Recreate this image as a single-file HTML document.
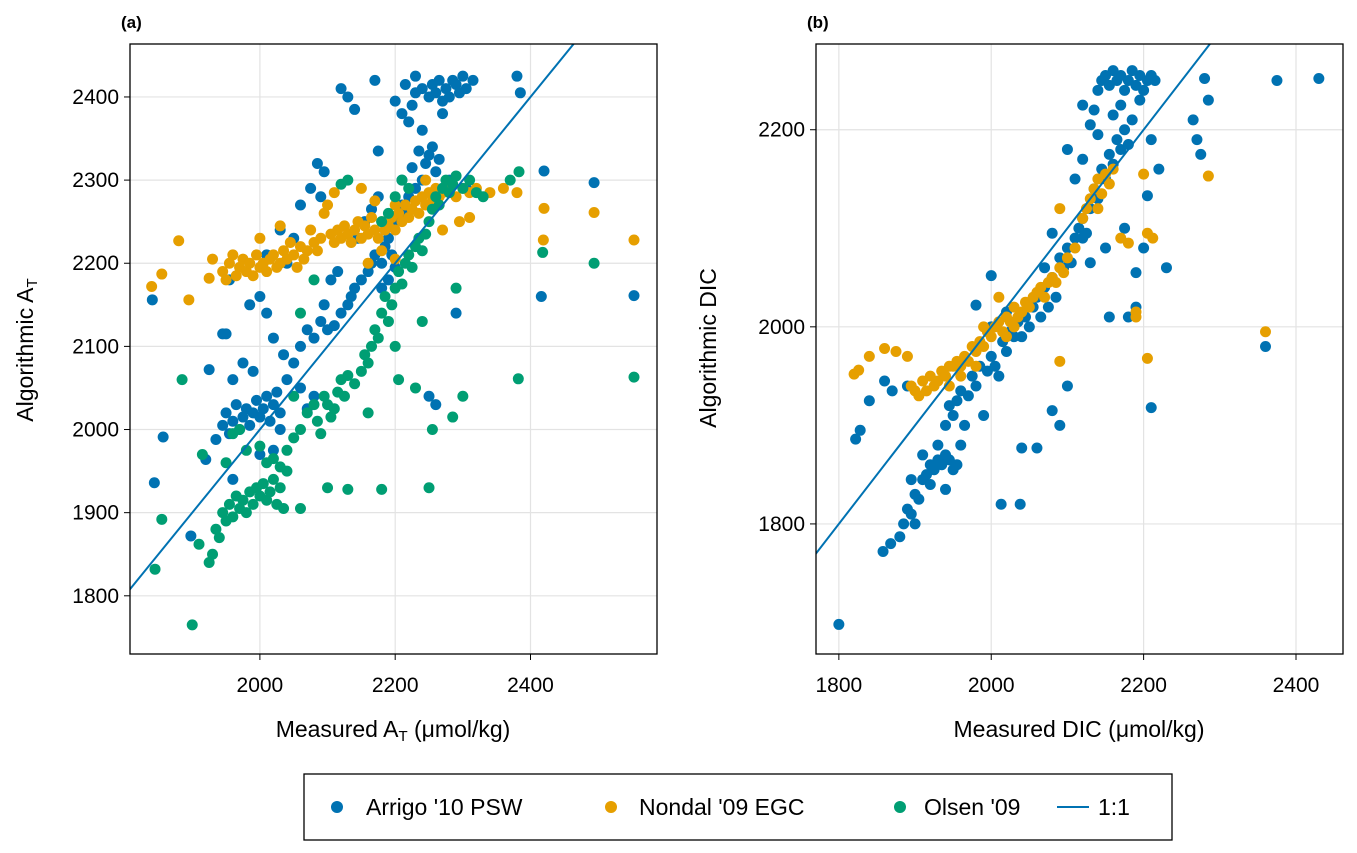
<!DOCTYPE html>
<html><head><meta charset="utf-8">
<style>
html,body{margin:0;padding:0;background:#fff;}
svg{display:block;font-family:"Liberation Sans",sans-serif;}
</style></head>
<body>
<svg id="chart" width="1357" height="853" viewBox="0 0 1357 853">
</svg>
<script>
const aArrigo=[[1844,1936],[1857,1991],[1841,2156],[1898,1872],[1925,2072],[1920,1964],[1935,1988],[1945,2005],[1950,2020],[1955,1995],[1960,2010],[1965,2030],[1970,2000],[1975,2015],[1980,2025],[1985,2005],[1990,2020],[1995,2035],[2000,2015],[2005,2025],[2010,2040],[2015,2010],[2020,2030],[2025,2045],[2030,2020],[1960,2060],[1975,2080],[1990,2070],[1950,2115],[1945,2115],[1955,2180],[1985,2150],[2000,2160],[2010,2140],[2020,2110],[2035,2090],[2040,2060],[2050,2080],[2060,2100],[2070,2120],[2080,2110],[2090,2130],[2095,2150],[2100,2120],[2110,2125],[2120,2140],[2130,2150],[2135,2160],[2140,2170],[2150,2180],[2160,2190],[2165,2200],[2170,2210],[2180,2200],[2185,2220],[2190,2230],[2200,2250],[2210,2270],[2215,2260],[2220,2280],[2230,2290],[2240,2300],[2245,2320],[2250,2330],[2260,2310],[2255,2340],[2265,2325],[2235,2335],[2225,2315],[2210,2300],[2270,2290],[2280,2300],[2200,2395],[2210,2380],[2220,2370],[2230,2405],[2240,2410],[2250,2400],[2255,2415],[2260,2405],[2265,2420],[2270,2395],[2275,2410],[2280,2400],[2285,2420],[2290,2415],[2295,2405],[2300,2425],[2305,2410],[2315,2420],[2270,2380],[2240,2360],[2225,2390],[2215,2415],[2230,2425],[2170,2420],[2120,2410],[2130,2400],[2140,2385],[2175,2335],[2085,2320],[2095,2310],[2075,2290],[2090,2280],[2060,2270],[2050,2230],[2030,2240],[2040,2200],[2010,2210],[2250,2040],[2260,2030],[2290,2140],[2305,2290],[2380,2425],[2385,2405],[2416,2160],[2420,2311],[2494,2297],[2553,2161],[2145,2230],[2155,2250],[2165,2265],[2175,2280],[2185,2240],[2195,2210],[2105,2180],[2115,2190],[2060,2050],[2080,2040],[2070,2025],[2030,2000],[2020,1975],[1960,1940],[2000,1970],[2180,2170],[2200,2195],[2190,2180]];
const aNondal=[[1840,2172],[1855,2187],[1880,2227],[1895,2156],[1925,2182],[1930,2205],[1945,2190],[1950,2180],[1955,2200],[1960,2210],[1965,2185],[1970,2195],[1975,2205],[1980,2190],[1985,2200],[1990,2185],[1995,2210],[2000,2195],[2005,2200],[2010,2190],[2015,2205],[2020,2210],[2025,2195],[2030,2200],[2035,2215],[2040,2205],[2045,2225],[2050,2210],[2055,2195],[2060,2220],[2065,2205],[2070,2215],[2075,2240],[2080,2225],[2085,2215],[2090,2230],[2095,2260],[2100,2270],[2105,2235],[2110,2225],[2115,2240],[2120,2230],[2125,2245],[2130,2235],[2135,2225],[2140,2240],[2145,2250],[2150,2230],[2155,2245],[2160,2235],[2165,2255],[2170,2240],[2175,2230],[2180,2250],[2185,2240],[2190,2245],[2195,2255],[2200,2240],[2205,2260],[2210,2250],[2215,2270],[2220,2255],[2225,2265],[2230,2275],[2235,2260],[2240,2280],[2245,2270],[2250,2285],[2255,2275],[2260,2290],[2265,2280],[2270,2285],[2280,2290],[2290,2280],[2300,2290],[2310,2285],[2320,2290],[2340,2285],[2360,2290],[2380,2285],[2150,2290],[2170,2275],[2200,2270],[2310,2255],[2270,2240],[2295,2250],[2180,2215],[2200,2205],[2160,2200],[2030,2245],[2000,2230],[2419,2228],[2420,2266],[2494,2261],[2553,2228],[2245,2300],[2110,2285]];
const aOlsen=[[1845,1832],[1855,1892],[1885,2060],[1900,1765],[1910,1862],[1915,1970],[1925,1840],[1930,1850],[1935,1880],[1940,1870],[1945,1900],[1950,1890],[1955,1910],[1960,1895],[1965,1920],[1970,1905],[1975,1915],[1980,1900],[1985,1925],[1990,1910],[1995,1930],[2000,1920],[2005,1935],[2010,1915],[2015,1925],[2020,1940],[2025,1910],[2030,1930],[2035,1905],[2040,1950],[1950,1960],[1960,1995],[1970,2000],[1980,1975],[2000,1980],[2010,1960],[2020,1965],[2030,1955],[2040,1975],[2050,1990],[2060,2000],[2070,2020],[2080,2030],[2085,2010],[2090,1995],[2095,2040],[2100,2030],[2105,2015],[2110,2025],[2115,2045],[2120,2060],[2125,2040],[2130,2065],[2140,2055],[2150,2070],[2155,2090],[2160,2080],[2165,2100],[2170,2120],[2175,2110],[2180,2140],[2185,2160],[2190,2130],[2195,2150],[2200,2170],[2205,2190],[2210,2175],[2215,2200],[2220,2210],[2225,2195],[2230,2220],[2235,2230],[2240,2215],[2245,2235],[2250,2250],[2255,2265],[2260,2280],[2265,2270],[2270,2290],[2275,2300],[2280,2285],[2285,2295],[2290,2305],[2300,2290],[2310,2300],[2320,2285],[2330,2280],[2190,2260],[2200,2280],[2180,2250],[2210,2300],[2220,2290],[2180,1928],[2250,1930],[2255,2000],[2285,2015],[2300,2040],[2290,2170],[2370,2300],[2383,2310],[2382,2061],[2418,2213],[2494,2200],[2553,2063],[2120,2295],[2130,2300],[2080,2180],[2060,2140],[2050,2040],[2060,1905],[2100,1930],[2130,1928],[2205,2060],[2230,2050],[2160,2020],[2200,2100],[2240,2130]];
const bArrigo=[[1800,1698],[1858,1772],[1868,1780],[1880,1787],[1885,1800],[1890,1815],[1895,1810],[1900,1830],[1905,1825],[1910,1845],[1915,1850],[1920,1860],[1925,1855],[1930,1865],[1935,1860],[1940,1870],[1945,1865],[1950,1855],[1955,1860],[1960,1880],[1900,1800],[1895,1845],[1910,1870],[1920,1840],[1930,1880],[1940,1900],[1945,1920],[1950,1910],[1955,1925],[1960,1935],[1965,1900],[1970,1930],[1975,1950],[1980,1940],[1985,1960],[1990,1910],[1995,1955],[2000,1970],[2005,1960],[2010,1950],[2015,1985],[2020,1975],[2025,1995],[2030,1990],[2035,2005],[2040,1990],[2045,2010],[2050,2000],[2055,2020],[2060,2030],[2065,2010],[2070,2040],[2075,2020],[2080,2050],[2085,2030],[2090,2070],[2095,2060],[2100,2080],[2105,2065],[2110,2090],[2115,2100],[2120,2110],[2125,2095],[2130,2120],[2135,2140],[2140,2130],[2145,2160],[2150,2150],[2155,2175],[2160,2165],[2165,2190],[2170,2180],[2175,2200],[2180,2185],[2130,2205],[2135,2220],[2140,2240],[2145,2250],[2150,2255],[2155,2245],[2160,2260],[2165,2250],[2170,2255],[2175,2240],[2180,2250],[2185,2260],[2190,2245],[2195,2255],[2200,2240],[2205,2250],[2210,2255],[2215,2250],[2120,2225],[2140,2195],[2110,2150],[2100,2180],[2120,2170],[2160,2215],[2170,2225],[2185,2210],[2195,2230],[2280,2252],[2285,2230],[2265,2210],[2270,2190],[2275,2175],[2360,1980],[2375,2250],[2430,2252],[2230,2060],[2210,1918],[2205,2133],[2190,2055],[2190,2020],[2180,2010],[2155,2010],[2013,1820],[2038,1820],[2040,1877],[2060,1877],[2080,1915],[2090,1900],[1822,1886],[1828,1895],[1840,1925],[1860,1945],[1870,1935],[1890,1940],[2000,2052],[1980,2022],[2100,1940],[2080,2095],[2070,2060],[2120,2090],[2130,2065],[2150,2080],[2175,2100],[2200,2080],[2210,2190],[2220,2160],[2000,2000],[2020,2015],[1940,1835]];
const bNondal=[[1820,1952],[1826,1956],[1840,1970],[1860,1978],[1875,1975],[1890,1970],[1895,1940],[1900,1935],[1905,1930],[1910,1945],[1915,1935],[1920,1950],[1925,1940],[1930,1945],[1935,1955],[1940,1950],[1945,1940],[1950,1960],[1955,1965],[1960,1960],[1965,1970],[1970,1965],[1975,1980],[1980,1975],[1985,1985],[1990,1980],[1995,1995],[2000,1990],[2005,2000],[2010,2005],[2015,1995],[2020,2010],[2025,2005],[2030,2020],[2035,2010],[2040,2015],[2045,2025],[2050,2020],[2055,2030],[2060,2035],[2065,2040],[2070,2030],[2075,2045],[2080,2050],[2085,2045],[2090,2060],[2095,2055],[2100,2070],[2110,2080],[2120,2110],[2125,2120],[2130,2130],[2135,2140],[2140,2150],[2145,2135],[2150,2155],[2155,2145],[2160,2160],[2140,2120],[2090,1965],[2200,2155],[2205,2095],[2212,2090],[2205,1968],[2190,2015],[2285,2153],[2360,1995],[2180,2085],[2170,2090],[2090,2120],[2190,2010],[1990,2000],[2010,2030],[2020,1990],[2030,2000],[1980,1960],[1960,1950],[1945,1960]];
const aXTicks=[2000,2200,2400];
const aYTicks=[1800,1900,2000,2100,2200,2300,2400];
const bXTicks=[1800,2000,2200,2400];
const bYTicks=[1800,2000,2200];

const NS="http://www.w3.org/2000/svg";
const svg=document.getElementById('chart');
function mk(tag,attrs,parent){const e=document.createElementNS(NS,tag);for(const k in attrs)e.setAttribute(k,attrs[k]);(parent||svg).appendChild(e);return e;}
const C={blue:'#0072b2',orange:'#e69f00',green:'#009e73'};

function panel(id,L,T,R,B,xmin,xmax,ymin,ymax,xt,yt,series){
  const g=mk('g',{});
  
  
  const sx=v=>L+(v-xmin)/(xmax-xmin)*(R-L);
  const sy=v=>B-(v-ymin)/(ymax-ymin)*(B-T);
  const clipId='clip-'+id;
  const cp=mk('clipPath',{id:clipId},g);mk('rect',{x:L,y:T,width:R-L,height:B-T},cp);
  xt.forEach(v=>{const l=mk('line',{x1:sx(v),x2:sx(v),y1:T,y2:B,stroke:'#e3e3e3','stroke-width':1.2},g);
    
    mk('line',{x1:sx(v),x2:sx(v),y1:B,y2:B+6,stroke:'#000','stroke-width':1},g);
    const t=mk('text',{x:sx(v),y:B+38,'text-anchor':'middle','font-size':21},g);t.textContent=v;
    });
  yt.forEach(v=>{const l=mk('line',{x1:L,x2:R,y1:sy(v),y2:sy(v),stroke:'#e3e3e3','stroke-width':1.2},g);
    
    mk('line',{x1:L-6,x2:L,y1:sy(v),y2:sy(v),stroke:'#000','stroke-width':1},g);
    const t=mk('text',{x:L-11,y:sy(v)+7,'text-anchor':'end','font-size':21},g);t.textContent=v;
    });
  const pg=mk('g',{'clip-path':'url(#'+clipId+')'},g);
  series.forEach(s=>{s.data.forEach(d=>{const c=mk('circle',{cx:sx(d[0]),cy:sy(d[1]),r:5.5,fill:s.color},pg);
    });});
  const lo=Math.min(xmin,ymin),hi=Math.max(xmax,ymax);
  const ln=mk('line',{x1:sx(lo),y1:sy(lo),x2:sx(hi),y2:sy(hi),stroke:C.blue,'stroke-width':2},pg);
  
  const fr=mk('rect',{x:L,y:T,width:R-L,height:B-T,fill:'none',stroke:'#000','stroke-width':1.3},g);
  
}
panel('a',130,44,657,654,1808,2587,1730,2463.7,aXTicks,aYTicks,[{data:aArrigo,color:C.blue,name:'arrigo'},{data:aNondal,color:C.orange,name:'nondal'},{data:aOlsen,color:C.green,name:'olsen'}]);
panel('b',816,44,1343,654,1770,2461.7,1668,2287,bXTicks,bYTicks,[{data:bArrigo,color:C.blue,name:'arrigo'},{data:bNondal,color:C.orange,name:'nondal'}]);
</script>
<svg style="position:absolute;left:0;top:0" width="1357" height="853">
  <text x="121" y="28" font-size="17" font-weight="bold" font-family="Liberation Sans">(a)</text>
  <text x="807" y="28" font-size="17" font-weight="bold" font-family="Liberation Sans">(b)</text>
  <text x="393" y="737" font-size="23" text-anchor="middle" font-family="Liberation Sans">Measured A<tspan font-size="15" dy="4">T</tspan><tspan dy="-4"> (μmol/kg)</tspan></text>
  <text transform="translate(33,350) rotate(-90)" font-size="23" text-anchor="middle" font-family="Liberation Sans">Algorithmic A<tspan font-size="15" dy="4">T</tspan></text>
  <text x="1079" y="737" font-size="23" text-anchor="middle" font-family="Liberation Sans">Measured DIC (μmol/kg)</text>
  <text transform="translate(716,348) rotate(-90)" font-size="23" text-anchor="middle" font-family="Liberation Sans">Algorithmic DIC</text>
  <g font-family="Liberation Sans" font-size="23">
    <rect x="304" y="774" width="868" height="66" fill="#fff" stroke="#000" stroke-width="1.3"/>
    <circle cx="337" cy="807" r="6" fill="#0072b2"/>
    <text x="366" y="815">Arrigo '10 PSW</text>
    <circle cx="611" cy="807" r="6" fill="#e69f00"/>
    <text x="639" y="815">Nondal '09 EGC</text>
    <circle cx="900" cy="807" r="6" fill="#009e73"/>
    <text x="924" y="815">Olsen '09</text>
    <line x1="1057" y1="807" x2="1089" y2="807" stroke="#0072b2" stroke-width="2"/>
    <text x="1098" y="815">1:1</text>
  </g>
</svg>
</body></html>
